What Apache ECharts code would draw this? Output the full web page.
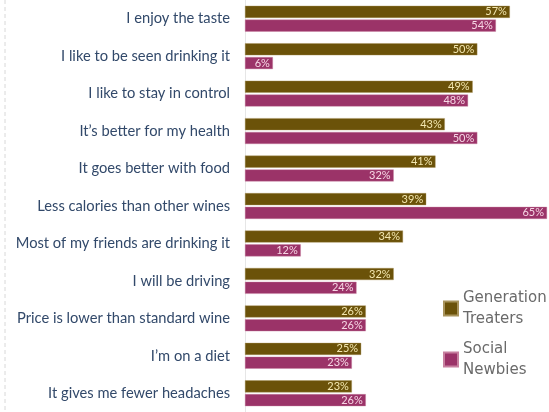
<!DOCTYPE html>
<html><head><meta charset="utf-8">
<script src="https://cdn.jsdelivr.net/npm/echarts@6/dist/echarts.min.js"></script>
<style>html,body{margin:0;padding:0;background:#fff;}#c{width:549px;height:412px;}</style>
</head><body><div id="c"></div>
<script>
var categories = ["I enjoy the taste","I like to be seen drinking it","I like to stay in control","It\u2019s better for my health","It goes better with food","Less calories than other wines","Most of my friends are drinking it","I will be driving","Price is lower than standard wine","I\u2019m on a diet","It gives me fewer headaches"];
var generationTreaters = [57,50,49,43,41,39,34,32,26,25,23];
var socialNewbies = [54,6,48,50,32,65,12,24,26,23,26];
var seriesNames = ["Generation Treaters","Social Newbies"];

var chart = echarts.init(document.getElementById('c'));
chart.setOption({
  animation:false,
  backgroundColor:'#fff',
  grid:{left:245,right:2,top:-4,bottom:-1,containLabel:false},
  xAxis:{type:'value',min:0,max:65,show:false},
  yAxis:{type:'category',data:categories,inverse:true,
    axisLine:{show:true,lineStyle:{color:'#e6e6e6',width:1}},
    axisTick:{show:false},
    axisLabel:{margin:15,fontFamily:'Lato',fontSize:14.7,color:'#32496a'}},
  legend:{orient:'vertical',left:443,top:277,padding:0,itemGap:-12,itemWidth:14,itemHeight:14,icon:'rect',
    formatter:function(n){return n.replace(' ','\n');},
    textStyle:{fontFamily:'DejaVu Sans',fontSize:15,color:'#6a6a6a',lineHeight:21,padding:[21,0,0,0]}},
  graphic:[{type:'line',shape:{x1:5,y1:0,x2:5,y2:412},style:{stroke:'#d8d8d8',lineWidth:1,lineDash:[4,3]}}],
  series:[
    {name:seriesNames[0],type:'bar',data:generationTreaters,barWidth:12,barGap:'15%',
     itemStyle:{color:'#6b5209',borderColor:'#a8935c',borderWidth:0.4},
     label:{show:true,position:'insideRight',distance:3,formatter:'{c}%',fontFamily:'Lato',fontSize:11,color:'#f3e7b0'}},
    {name:seriesNames[1],type:'bar',data:socialNewbies,barWidth:12,
     itemStyle:{color:'#9b3368',borderColor:'#c7809f',borderWidth:0.4},
     label:{show:true,position:'insideRight',distance:3,formatter:'{c}%',fontFamily:'Lato',fontSize:11,color:'#f6d6e4'}}
  ]
});
</script></body></html>
